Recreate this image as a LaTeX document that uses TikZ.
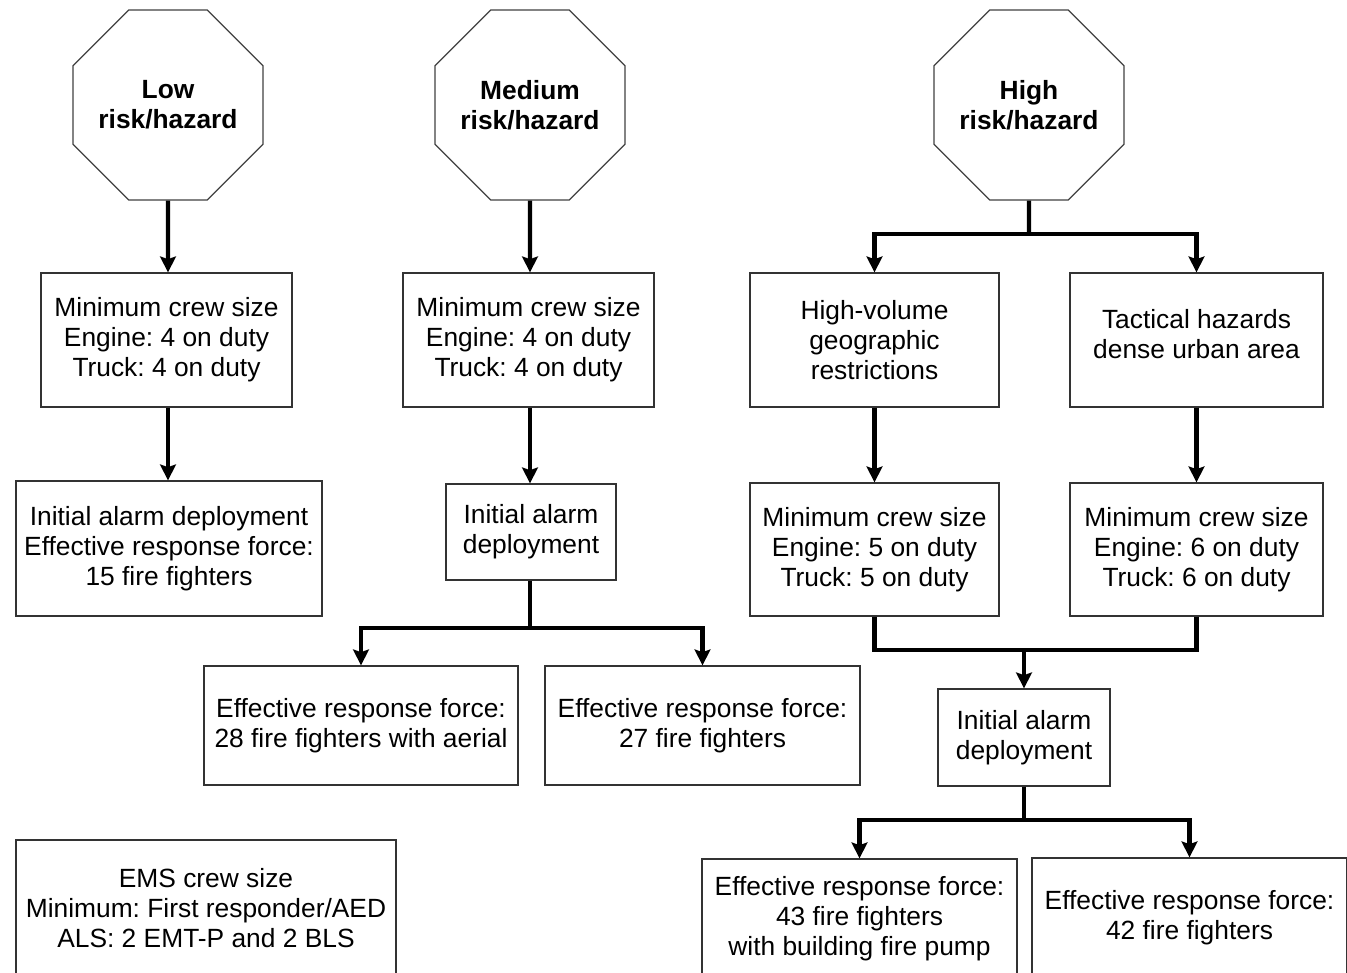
\documentclass[tikz,border=0pt]{standalone}
\usepackage{fontspec}
\setmainfont{Liberation Sans}
\frenchspacing
\usetikzlibrary{shapes.geometric,arrows.meta}

\begin{document}
\begin{tikzpicture}[x=0.02cm,y=-0.02cm]
    \tikzstyle{every node}+=[inner sep=0pt,align=center,font=\fontsize{15}{17}\selectfont]
    \tikzstyle{box}=[draw=black!80,line width=0.75pt,rectangle]
    \tikzstyle{risk}=[draw=black!75,line width=0.7pt,regular polygon,regular polygon sides=8,inner sep=-20pt,minimum size=4.11cm,font=\fontsize{15}{17}\selectfont\bfseries]
    \tikzstyle{conn}=[line width=2.4pt,black]
    \tikzstyle{arr}=[conn,-{Stealth[length=9pt,width=9pt,inset=1.5pt]}]
    \useasboundingbox (0,0) rectangle (1347,973);
    \node [risk] (low) at (168,105) {Low\\risk/hazard};
    \node [risk] (med) at (530,105) {Medium\\risk/hazard};
    \node [risk] (high) at (1029,105) {High\\risk/hazard};
    \node [box,minimum width=5.02cm,minimum height=2.68cm] (lcrew) at (166.5,340) {Minimum crew size\\Engine: 4 on duty\\Truck: 4 on duty};
    \node [box,minimum width=5.02cm,minimum height=2.68cm] (mcrew) at (528.5,340) {Minimum crew size\\Engine: 4 on duty\\Truck: 4 on duty};
    \node [box,minimum width=4.98cm,minimum height=2.68cm] (hvol) at (874.5,340) {High-volume\\geographic\\restrictions};
    \node [box,minimum width=5.06cm,minimum height=2.68cm,text depth=0.24cm] (tact) at (1196.5,340) {Tactical hazards\\dense urban area};
    \node [box,minimum width=6.12cm,minimum height=2.70cm] (lalarm) at (169,548.5) {Initial alarm deployment\\Effective response force:\\15 fire fighters};
    \node [box,minimum width=3.40cm,minimum height=1.92cm] (malarm) at (531,532) {Initial alarm\\deployment};
    \node [box,minimum width=4.98cm,minimum height=2.66cm] (hvcrew) at (874.5,549.5) {Minimum crew size\\Engine: 5 on duty\\Truck: 5 on duty};
    \node [box,minimum width=5.06cm,minimum height=2.66cm] (tcrew) at (1196.5,549.5) {Minimum crew size\\Engine: 6 on duty\\Truck: 6 on duty};
    \node [box,minimum width=6.28cm,minimum height=2.38cm] (merfa) at (361,725.5) {Effective response force:\\28 fire fighters with aerial};
    \node [box,minimum width=6.30cm,minimum height=2.38cm] (merfb) at (702.5,725.5) {Effective response force:\\27 fire fighters};
    \node [box,minimum width=3.44cm,minimum height=1.94cm] (halarm) at (1024,737.5) {Initial alarm\\deployment};
    \node [box,minimum width=7.60cm,minimum height=2.72cm] (ems) at (206,908) {EMS crew size\\Minimum: First responder/AED\\ALS: 2 EMT-P and 2 BLS};
    \node [box,minimum width=6.30cm,minimum height=2.40cm] (herfa) at (859.5,919) {Effective response force:\\43 fire fighters\\with building fire pump};
    \node [box,minimum width=6.30cm,minimum height=2.40cm] (herfb) at (1189.5,918) {Effective response force:\\42 fire fighters};
    \coordinate (mfork) at (530,628);
    \coordinate (hfork) at (1029,234);
    \coordinate (hjoin) at (1024,650);
    \coordinate (hforkb) at (1024,820);
    \draw [arr] (low) -- (low |- lcrew.north);
    \draw [arr] (lcrew.south -| low) -- (lalarm.north -| low);
    \draw [arr] (med) -- (mcrew.north -| med);
    \draw [arr] (mcrew.south -| med) -- (malarm.north -| med);
    \draw [conn] (malarm.south -| mfork) -- (mfork);
    \draw [arr] (mfork) -| (merfa.north);
    \draw [arr] (mfork) -| (merfb.north);
    \draw [conn] (high) -- (hfork);
    \draw [arr] (hfork) -| (hvol.north);
    \draw [arr] (hfork) -| (tact.north);
    \draw [arr] (hvol) -- (hvcrew);
    \draw [arr] (tact) -- (tcrew);
    \draw [conn] (hvcrew.south) |- (hjoin) -| (tcrew.south);
    \draw [arr] (hjoin) -- (halarm);
    \draw [conn] (halarm) -- (hforkb);
    \draw [arr] (hforkb) -| (herfa.north);
    \draw [arr] (hforkb) -| (herfb.north);
\end{tikzpicture}
\end{document}
